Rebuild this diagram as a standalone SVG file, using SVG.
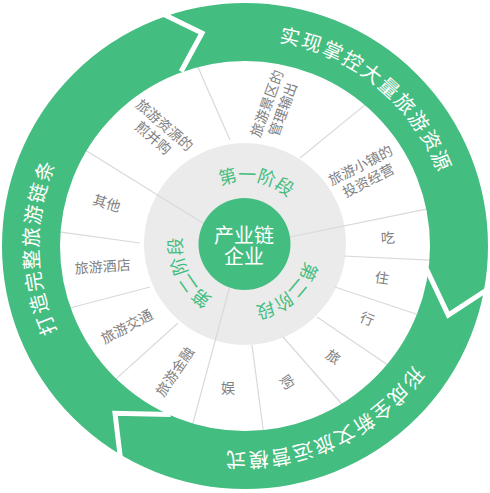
<svg xmlns="http://www.w3.org/2000/svg" width="490" height="493" viewBox="0 0 490 493">
<defs>
<style>
.seg{font-family:"Liberation Sans","Noto Sans CJK SC",sans-serif;font-size:14px;fill:#7f7f7f;text-anchor:middle;dominant-baseline:central}
.band{font-family:"Liberation Sans","Noto Sans CJK SC",sans-serif;font-size:20px;fill:#ffffff;letter-spacing:1.7px;text-anchor:middle}
.stage{font-family:"Liberation Sans","Noto Sans CJK SC",sans-serif;font-size:18px;fill:#44bd80;text-anchor:middle}
.core{font-family:"Liberation Sans","Noto Sans CJK SC",sans-serif;font-size:20px;fill:#ffffff;text-anchor:middle;dominant-baseline:central}
.div{stroke:#d9d9d9;stroke-width:1.2;fill:none}
.gap{stroke:#ffffff;stroke-width:5;fill:none;stroke-linejoin:miter}
</style>
<path id="ringPath" d="M448.4,281.9 A206.5,206.5 0 1,1 41.6,210.1 A206.5,206.5 0 1,1 448.4,281.9"/>
<path id="stagePath" d="M245,307 A63,63 0 1,1 245,181 A63,63 0 1,1 245,307"/>
</defs>
<rect width="490" height="493" fill="#ffffff"/>
<g id="stage-ring">
<circle cx="245" cy="244" r="101" fill="#ebebeb"/>
</g>
<g id="connectors">
<line class="div" x1="230" y1="140" x2="193.8" y2="57.7"/>
<line class="div" x1="300" y1="158" x2="371.2" y2="99.9"/>
<line class="div" x1="285" y1="238" x2="434.8" y2="207.4"/>
<line class="div" x1="343" y1="256" x2="436" y2="260.4"/>
<line class="div" x1="335" y1="287" x2="420.6" y2="315.5"/>
<line class="div" x1="317" y1="317" x2="391.6" y2="367.5"/>
<line class="div" x1="283" y1="337" x2="345.3" y2="408"/>
<line class="div" x1="252" y1="345" x2="264" y2="436"/>
<line class="div" x1="231" y1="282" x2="190.9" y2="430.7"/>
<line class="div" x1="178" y1="323" x2="111" y2="383.4"/>
<line class="div" x1="150" y1="287" x2="62.3" y2="310"/>
<line class="div" x1="140" y1="243" x2="52.1" y2="230.9"/>
<line class="div" x1="206" y1="225" x2="78.2" y2="145.8"/>
</g>
<g id="outer-ring">
<circle cx="245" cy="246" r="214" fill="none" stroke="#44bd80" stroke-width="58"/>
<path class="gap" d="M161.4,13.2 L202,33 L181.1,71.5"/>
<path class="gap" d="M426,268 L448.3,315 L490,287.8"/>
<path class="gap" d="M170.7,414.4 L115,413.3 L120.5,459"/>
</g>
<g id="band-top"><text class="band"><textPath href="#ringPath" startOffset="83.2%">实现掌控大量旅游资源</textPath></text></g>
<g id="band-bottom"><text class="band"><textPath href="#ringPath" startOffset="15.4%">形成全新文旅运营模式</textPath></text></g>
<g id="band-left"><text class="band"><textPath href="#ringPath" startOffset="47.1%">打造完整旅游链条</textPath></text></g>
<g id="core">
<circle cx="244.5" cy="244" r="46" fill="#44bd80"/>
<text class="core" x="244" y="235.5">产业链</text>
<text class="core" x="244" y="256.5">企业</text>
</g>
<g id="stage-1"><text class="stage"><textPath href="#stagePath" startOffset="52.8%">第一阶段</textPath></text></g>
<g id="stage-2"><text class="stage"><textPath href="#stagePath" startOffset="88.4%">第二阶段</textPath></text></g>
<g id="stage-3"><text class="stage"><textPath href="#stagePath" startOffset="17.6%">第二阶段</textPath></text></g>
<g id="seg-jingqu" transform="translate(275,106.5) rotate(-70)"><text class="seg" y="-8.5">旅游景区的</text><text class="seg" y="8.5">管理输出</text></g>
<g id="seg-xiaozhen" transform="translate(364.5,173) rotate(-27)"><text class="seg" y="-8.5">旅游小镇的</text><text class="seg" y="8.5">投资经营</text></g>
<g id="seg-chi"><text class="seg" transform="translate(388,238) rotate(-4)">吃</text></g>
<g id="seg-zhu"><text class="seg" transform="translate(382,278) rotate(8)">住</text></g>
<g id="seg-xing"><text class="seg" transform="translate(367,319) rotate(22)">行</text></g>
<g id="seg-lv"><text class="seg" transform="translate(333,357) rotate(35)">旅</text></g>
<g id="seg-gou"><text class="seg" transform="translate(287,382) rotate(55)">购</text></g>
<g id="seg-yu"><text class="seg" transform="translate(228,388) rotate(0)">娱</text></g>
<g id="seg-jinrong"><text class="seg" transform="translate(175,371.7) rotate(-56)">旅游金融</text></g>
<g id="seg-jiaotong"><text class="seg" transform="translate(127,326.7) rotate(-28)">旅游交通</text></g>
<g id="seg-jiudian"><text class="seg" transform="translate(102.7,266.7) rotate(-4)">旅游酒店</text></g>
<g id="seg-qita"><text class="seg" transform="translate(106.7,203.3) rotate(17)">其他</text></g>
<g id="seg-binggou" transform="translate(158.8,131.5) rotate(41)"><text class="seg" y="-8.5">旅游资源的</text><text class="seg" y="8.5">煎并购</text></g>
</svg>
